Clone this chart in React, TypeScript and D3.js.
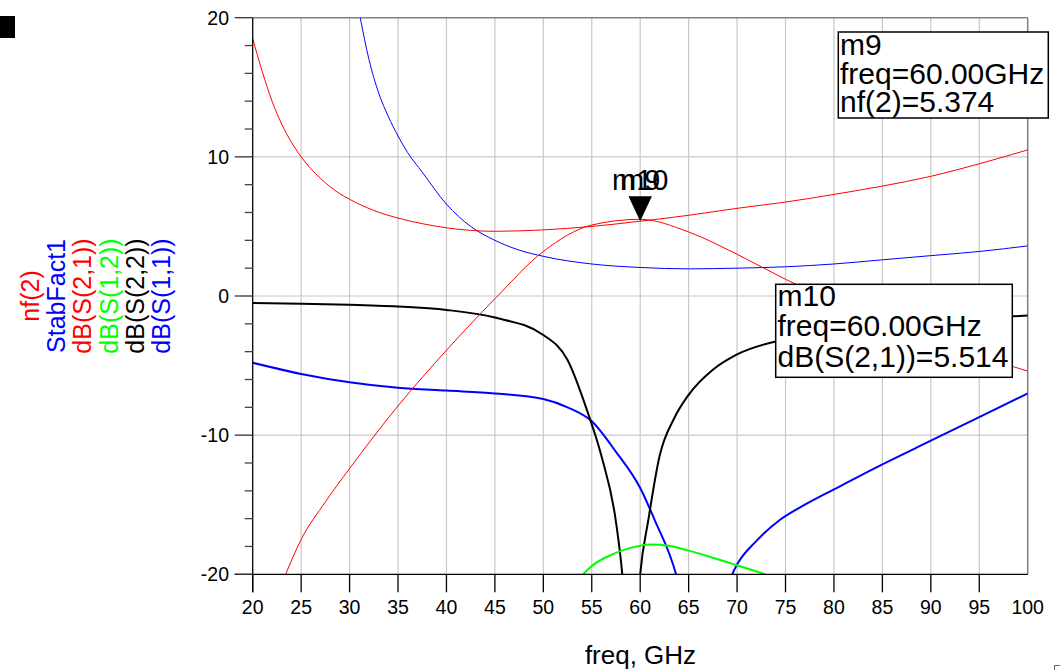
import React from "react";
import * as d3 from "d3";

type P = [number, number];

const xTicks = [20, 25, 30, 35, 40, 45, 50, 55, 60, 65, 70, 75, 80, 85, 90, 95, 100];
const yTicks = [-20, -10, 0, 10, 20];
const yMinor = [-18, -16, -14, -12, -8, -6, -4, -2, 2, 4, 6, 8, 12, 14, 16, 18];

const nf2: P[] = [[20, 18.5], [21, 16.1], [22, 14.0], [23, 12.35], [24, 11.05], [25, 10.0], [26, 9.15], [27, 8.45], [28, 7.85], [29, 7.35], [30, 6.95], [32.5, 6.15], [35, 5.6], [37.5, 5.2], [40, 4.9], [45, 4.65], [50, 4.75], [55, 5.0], [60, 5.374], [65, 5.8], [70, 6.3], [75, 6.75], [80, 7.3], [85, 7.9], [90, 8.6], [95, 9.5], [100, 10.5]];
const stabFact: P[] = [[31.1, 20], [32, 17.0], [33, 14.6], [34, 12.9], [35, 11.5], [36, 10.3], [37.5, 8.9], [40, 6.6], [42.5, 5.0], [45, 4.0], [47.5, 3.3], [50, 2.85], [55, 2.3], [60, 2.05], [65, 1.95], [70, 2.0], [75, 2.1], [80, 2.3], [85, 2.6], [90, 2.9], [95, 3.2], [100, 3.6]];
const s21: P[] = [[23.4, -20], [25, -17.5], [27.5, -14.8], [30, -12.4], [35, -7.9], [40, -3.9], [45, -0.2], [50, 3.2], [55, 5.1], [60, 5.514], [65, 4.6], [70, 3.0], [75, 1.2], [80, -0.4], [85, -1.8], [90, -3.1], [95, -4.3], [100, -5.4]];
const s12: P[] = [[54.1, -20], [55, -19.4], [57, -18.6], [59, -18.1], [61, -17.85], [63, -17.95], [65, -18.3], [67, -18.7], [70, -19.35], [72.9, -20]];
const s22: P[] = [[20, -0.5], [25, -0.55], [30, -0.62], [35, -0.75], [40, -1.0], [45, -1.55], [50, -2.8], [52.5, -4.6], [54.6, -8.4], [56, -11.5], [57.47, -16.1], [58.15, -20], [59.1, -30], [60, -20], [60.84, -16.1], [62, -11.5], [63.5, -8.8], [65, -7.1], [67.5, -5.3], [70, -4.2], [75, -3.1], [80, -2.5], [85, -2.1], [90, -1.8], [95, -1.6], [100, -1.4]];
const s11: P[] = [[20, -4.8], [25, -5.6], [30, -6.2], [35, -6.6], [40, -6.8], [45, -7.0], [50, -7.4], [52.5, -8.0], [55, -9.0], [57.5, -11.2], [60, -13.8], [61.5, -16.1], [63.7, -20], [66.5, -30], [69.5, -20], [70, -19.3], [72, -17.6], [74.4, -16.1], [77, -15.0], [80, -13.9], [85, -12.1], [90, -10.4], [95, -8.7], [100, -7.0]];

const legendLabels = ["nf(2)", "StabFact1", "dB(S(2,1))", "dB(S(1,2))", "dB(S(2,2))", "dB(S(1,1))"];
const legendColors = ["#ff0000", "#0000ff", "#ff0000", "#00ff00", "#000000", "#0000ff"];

const m9Lines = ["m9", "freq=60.00GHz", "nf(2)=5.374"];
const m10Lines = ["m10", "freq=60.00GHz", "dB(S(2,1))=5.514"];
const markerFreq = 60;
const markerValue = 5.374;

export default function App() {
  const x = d3.scaleLinear().domain([20, 100]).range([252.7, 1027.7]);
  const y = d3.scaleLinear().domain([-20, 20]).range([574.3, 17.7]);
  const line = d3.line<P>().x(d => x(d[0])).y(d => y(d[1])).curve(d3.curveMonotoneX);
  const L = x(20), R = x(100), T = y(20), B = y(-20);
  const font = "Liberation Sans, Arial, sans-serif";
  const series = [
    { d: s11, c: "#0000ff", w: 2 },
    { d: s22, c: "#000000", w: 2 },
    { d: s12, c: "#00ff00", w: 2 },
    { d: stabFact, c: "#0000ff", w: 1 },
    { d: nf2, c: "#ff0000", w: 1 },
    { d: s21, c: "#ff0000", w: 1 },
  ];
  const mx = x(markerFreq), my = y(markerValue);
  return (
    <svg width={1060} height={670} style={{ position: "fixed", left: 0, top: 0, background: "#fff" }} fontFamily={font}>
      <defs>
        <clipPath id="plot"><rect x={L} y={T} width={R - L} height={B - T} /></clipPath>
      </defs>
      <rect x={0} y={0} width={1060} height={670} fill="#fff" />
      <rect x={0} y={16} width={15} height={22} fill="#000" />
      {xTicks.slice(1, -1).map(t => (
        <line key={"gx" + t} x1={x(t)} x2={x(t)} y1={T} y2={B} stroke="#c8c8c8" strokeWidth={1.2} />
      ))}
      {[10, 0, -10].map(t => (
        <line key={"gy" + t} x1={L} x2={R} y1={y(t)} y2={y(t)} stroke="#c8c8c8" strokeWidth={1.2} />
      ))}
      <line x1={L} x2={R} y1={T} y2={T} stroke="#808080" strokeWidth={1.5} />
      <line x1={R} x2={R} y1={T} y2={B} stroke="#808080" strokeWidth={1.5} />
      <g clipPath="url(#plot)">
        {series.map((s, i) => (
          <path key={i} d={line(s.d) || ""} fill="none" stroke={s.c} strokeWidth={s.w} />
        ))}
      </g>
      <line x1={L} x2={L} y1={T} y2={B + 18} stroke="#000" strokeWidth={1.3} />
      <line x1={L - 18} x2={R} y1={B} y2={B} stroke="#000" strokeWidth={1.3} />
      {xTicks.slice(0, -1).map(t => (
        <line key={"tx" + t} x1={x(t)} x2={x(t)} y1={B} y2={B + 18} stroke="#000" strokeWidth={1.3} />
      ))}
      {yTicks.map(t => (
        <line key={"ty" + t} x1={L - 18} x2={L} y1={y(t)} y2={y(t)} stroke="#333" strokeWidth={1.3} />
      ))}
      {yMinor.map(t => (
        <line key={"tm" + t} x1={L - 8} x2={L} y1={y(t)} y2={y(t)} stroke="#444" strokeWidth={1.3} />
      ))}
      {xTicks.map(t => (
        <text key={"lx" + t} x={x(t)} y={614} textAnchor="middle" fontSize={19.5} fill="#000">{t}</text>
      ))}
      {yTicks.map(t => (
        <text key={"ly" + t} x={229} y={y(t)} dy="0.36em" textAnchor="end" fontSize={19.5} fill="#000">{t}</text>
      ))}
      <text x={640.5} y={664} textAnchor="middle" fontSize={26} fill="#000">freq, GHz</text>
      {legendLabels.map((lab, i) => (
        <text key={lab} transform={`translate(${30 + i * 26.2},296) rotate(-90)`} textAnchor="middle" dy="0.36em" fontSize={25} fill={legendColors[i]}>{lab}</text>
      ))}
      <path d={`M${mx},${my} L${mx - 11.7},${my - 25} L${mx + 11.7},${my - 25} Z`} fill="#000" />
      <text x={mx} y={190} textAnchor="middle" fontSize={29} fill="#000">m10</text>
      <text x={mx} y={190} textAnchor="middle" fontSize={29} fill="#000">m9</text>
      <rect x={838.3} y={32} width={210} height={86} fill="#fff" stroke="#000" strokeWidth={1.5} />
      {m9Lines.map((s, i) => (
        <text key={"m9" + i} x={840} y={55 + i * 28.5} fontSize={30} fill="#000">{s}</text>
      ))}
      <rect x={775.7} y={284.3} width={236.6} height={93} fill="#fff" stroke="#000" strokeWidth={1.5} />
      {m10Lines.map((s, i) => (
        <text key={"m10" + i} x={777.5} y={306 + i * 30.3} fontSize={30} fill="#000">{s}</text>
      ))}
      <path d="M1054.5,670 V665.5 H1060" fill="none" stroke="#666" strokeWidth={1} />
    </svg>
  );
}
